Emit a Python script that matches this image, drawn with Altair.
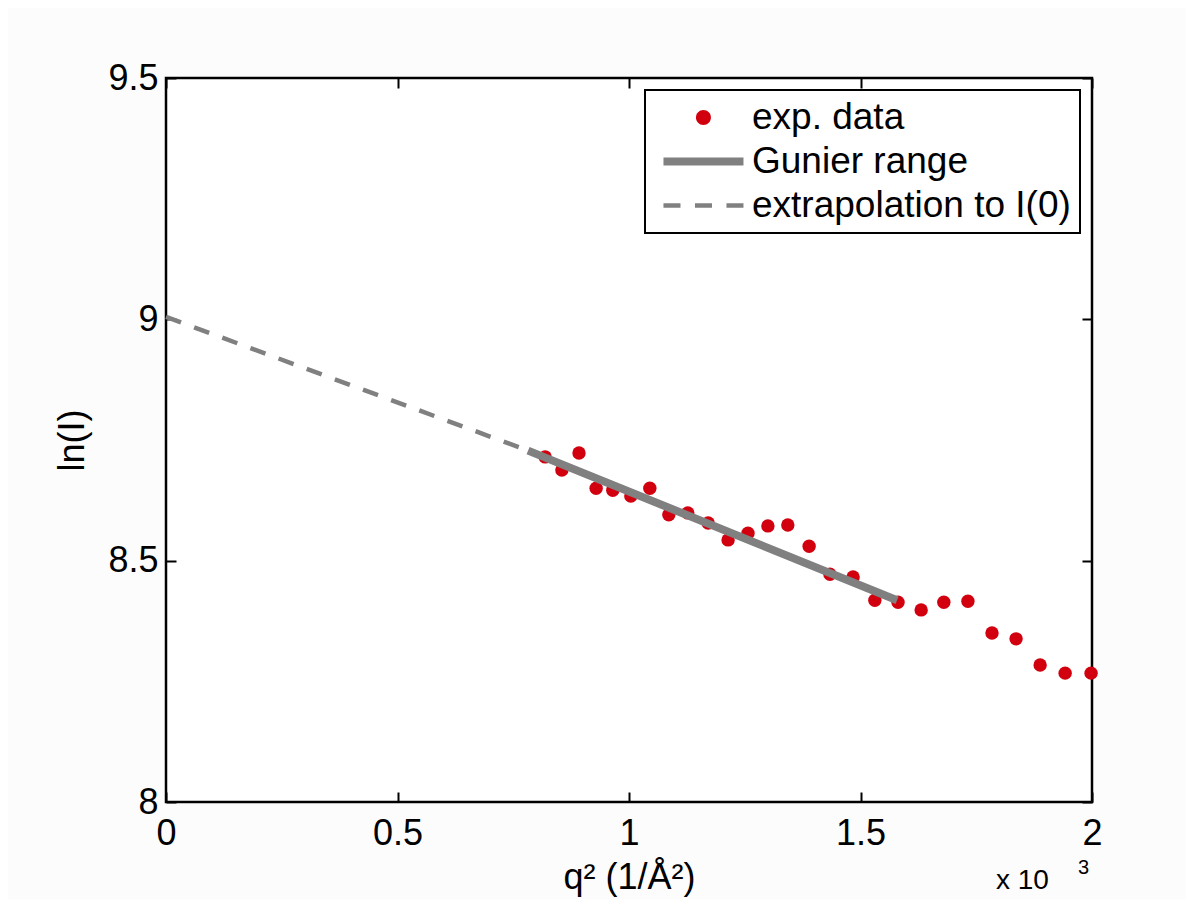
import altair as alt
import pandas as pd

# ---------------- data (q^2 in units of 1e-3 1/Å^2) ----------------
q2 = [0.819, 0.855, 0.892, 0.929, 0.965, 1.004, 1.045, 1.086, 1.127, 1.171,
      1.214, 1.257, 1.300, 1.343, 1.389, 1.434, 1.484, 1.531, 1.581, 1.631,
      1.680, 1.732, 1.784, 1.836, 1.888, 1.942, 1.998]
lnI = [8.715, 8.688, 8.723, 8.650, 8.646, 8.634, 8.650, 8.595, 8.599, 8.578,
       8.543, 8.557, 8.572, 8.574, 8.530, 8.472, 8.466, 8.418, 8.414, 8.398,
       8.414, 8.416, 8.350, 8.338, 8.284, 8.267, 8.267]

gunier_q2 = [0.782, 1.579]
gunier_lnI = [8.728, 8.418]

extrap_q2 = [0.0, 0.782]
extrap_lnI = [9.005, 8.728]

series = ["exp. data", "Gunier range", "extrapolation to I(0)"]
x_ticks = [0, 0.5, 1, 1.5, 2]
y_ticks = [8, 8.5, 9, 9.5]
exponent_text = ["x 10", "3"]

# ---------------- style ----------------
FONT = "Liberation Sans"
W, H = 926, 724
RED = "#d2000f"
GRAY = "#808080"
FS = 36

pts = pd.DataFrame({"q2": q2, "lnI": lnI})
gun = pd.DataFrame({"q2": gunier_q2, "lnI": gunier_lnI})
ext = pd.DataFrame({"q2": extrap_q2, "lnI": extrap_lnI})
leg = pd.DataFrame({"series": series})

xs = alt.Scale(domain=[0, 2], nice=False, zero=False)
ys = alt.Scale(domain=[8, 9.5], nice=False, zero=False)

tick_only = dict(labels=False, domain=False, grid=False, ticks=True,
                 tickSize=10, tickWidth=2, tickColor="black", title=None)

# main points + labelled axes
points = alt.Chart(pts).mark_circle(size=180, color=RED, opacity=1).encode(
    x=alt.X("q2:Q", scale=xs, axis=alt.Axis(
        orient="bottom", values=x_ticks, format="~g", ticks=False, domain=False,
        grid=False, labelFlush=False, labelFontSize=FS, labelFont=FONT,
        labelColor="black", labelPadding=14, title="q² (1/Å²)", titleFontSize=FS,
        titleFont=FONT, titleFontWeight="normal", titleColor="black", titlePadding=9)),
    y=alt.Y("lnI:Q", scale=ys, axis=alt.Axis(
        orient="left", values=y_ticks, format="~g", ticks=False, domain=False,
        grid=False, labelFlush=False, labelFontSize=FS, labelFont=FONT,
        labelColor="black", labelPadding=8, title="ln(I)", titleFontSize=FS,
        titleFont=FONT, titleFontWeight="normal", titleColor="black", titlePadding=16)),
)

# Gunier range line; its axes give the inward ticks at bottom and left
gunier = alt.Chart(gun).mark_line(color=GRAY, strokeWidth=8, strokeCap="butt").encode(
    x=alt.X("q2:Q", scale=xs, axis=alt.Axis(orient="top", offset=-H, values=x_ticks, **tick_only)),
    y=alt.Y("lnI:Q", scale=ys, axis=alt.Axis(orient="right", offset=-W, values=y_ticks, **tick_only)),
)

# extrapolation line; its axes give the inward ticks at top and right
extrap = alt.Chart(ext).mark_line(color=GRAY, strokeWidth=4.5, strokeDash=[16, 14],
                                  strokeCap="butt").encode(
    x=alt.X("q2:Q", scale=xs, axis=alt.Axis(orient="bottom", offset=-H, values=x_ticks, **tick_only)),
    y=alt.Y("lnI:Q", scale=ys, axis=alt.Axis(orient="left", offset=-W, values=y_ticks, **tick_only)),
)

# legend symbols (custom paths, unit = 7 px)
circle_path = "M3.35,0A1.07,1.07 0 1,0 5.49,0A1.07,1.07 0 1,0 3.35,0Z"
thick_path = "M-1.29,-0.57L10.14,-0.57L10.14,0.57L-1.29,0.57Z"
dash_path = ("M-1.29,-0.32L1.14,-0.32L1.14,0.32L-1.29,0.32Z"
             "M3.21,-0.32L5.64,-0.32L5.64,0.32L3.21,0.32Z"
             "M7.71,-0.32L10.14,-0.32L10.14,0.32L7.71,0.32Z")

legend_layer = alt.Chart(leg).mark_point(filled=True, opacity=0).encode(
    x=alt.X(datum=1.0, scale=xs, axis=None),
    y=alt.Y(datum=9.0, scale=ys, axis=None),
    color=alt.Color("series:N", scale=alt.Scale(domain=series, range=[RED, GRAY, GRAY]),
                    legend=alt.Legend(title=None)),
    shape=alt.Shape("series:N", scale=alt.Scale(domain=series,
                                                range=[circle_path, thick_path, dash_path]),
                    legend=alt.Legend(title=None)),
)

exp_df = pd.DataFrame({"t": [exponent_text[0]]})
exp_df2 = pd.DataFrame({"t": [exponent_text[1]]})
exp_main = alt.Chart(exp_df).mark_text(font=FONT, fontSize=28, align="left",
                                       baseline="alphabetic", color="black").encode(
    x=alt.value(830), y=alt.value(811), text="t:N")
exp_sup = alt.Chart(exp_df2).mark_text(font=FONT, fontSize=20, align="left",
                                       baseline="alphabetic", color="black").encode(
    x=alt.value(912), y=alt.value(796), text="t:N")

chart = alt.layer(points, gunier, extrap, legend_layer, exp_main, exp_sup).resolve_axis(
    x="independent", y="independent"
).properties(
    width=W, height=H,
    autosize=alt.AutoSizeParams(type="none"),
    padding={"left": 158, "top": 70, "right": 94, "bottom": 97},
    background="#fcfcfc",
).configure_view(
    stroke="black", strokeWidth=2.5, fill="white"
).configure_legend(
    orient="top-right", offset=12, padding=9, rowPadding=6,
    labelFontSize=37, labelFont=FONT, labelColor="black", labelLimit=600,
    labelOffset=61, symbolSize=196, symbolStrokeWidth=0, symbolOpacity=1,
    strokeColor="black", strokeWidth=2, fillColor="white",
)

chart.save("out.html", embed_options={"renderer": "svg", "actions": False})
